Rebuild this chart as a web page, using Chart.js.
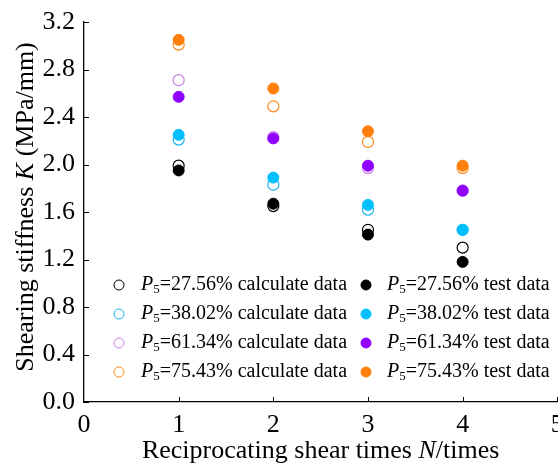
<!DOCTYPE html>
<html>
<head>
<meta charset="utf-8">
<script src="https://cdn.jsdelivr.net/npm/chart.js@4/dist/chart.umd.min.js"></script>
<style>
  html, body { margin: 0; padding: 0; background: #fff; overflow: hidden; }
  #wrap { width: 564px; height: 466px; }
</style>
</head>
<body>
<div id="wrap"><canvas id="c"></canvas></div>
<script>
// reciprocating shear times
const shearTimes = [1, 2, 3, 4];
const ratios = ['27.56', '38.02', '61.34', '75.43'];

// shearing stiffness K (MPa/mm)
const calc2756 = [1.99, 1.65, 1.45, 1.30];
const calc3802 = [2.21, 1.83, 1.62, 1.45];
const calc6134 = [2.71, 2.23, 1.97, 1.78];
const calc7543 = [3.01, 2.49, 2.19, 1.97];

const test2756 = [1.95, 1.67, 1.41, 1.18];
const test3802 = [2.25, 1.89, 1.66, 1.45];
const test6134 = [2.57, 2.22, 1.99, 1.78];
const test7543 = [3.05, 2.64, 2.28, 1.99];

const yTicks = [0, 0.4, 0.8, 1.2, 1.6, 2.0, 2.4, 2.8, 3.2];

const calcColors = ['#000000', '#1ab2f0', '#c97ee3', '#ff8a1e'];
const testColors = ['#000000', '#00bfff', '#9000ff', '#ff7f0a'];

const SERIF = '"Liberation Serif", "Times New Roman", serif';

const toPts = arr => arr.map((v, i) => ({ x: shearTimes[i], y: v }));

const calcSets = [calc2756, calc3802, calc6134, calc7543].map((d, i) => ({
    label: 'P5=' + ratios[i] + '% calculate data',
    kind: 'calc',
    data: toPts(d),
    borderColor: calcColors[i],
    backgroundColor: 'rgba(255,255,255,0)',
    pointRadius: 5.5,
    pointBorderWidth: 1.2,
    order: 2
}));
const testSets = [test2756, test3802, test6134, test7543].map((d, i) => ({
    label: 'P5=' + ratios[i] + '% test data',
    kind: 'test',
    data: toPts(d),
    borderColor: testColors[i],
    backgroundColor: testColors[i],
    pointRadius: 5.5,
    pointBorderWidth: 1,
    order: 1
}));

// text with italic / subscript parts
function runWidth(ctx, runs, size) {
    let w = 0;
    runs.forEach(r => {
        const s = r.sub ? size * 0.65 : size;
        ctx.font = (r.it ? 'italic ' : '') + s + 'px ' + SERIF;
        w += ctx.measureText(r.t).width;
    });
    return w;
}
function drawRuns(ctx, runs, x, y, size) {
    runs.forEach(r => {
        const s = r.sub ? size * 0.65 : size;
        ctx.font = (r.it ? 'italic ' : '') + s + 'px ' + SERIF;
        ctx.fillText(r.t, x, r.sub ? y + size * 0.25 : y);
        x += ctx.measureText(r.t).width;
    });
}

const extras = {
    id: 'extras',
    afterDraw(chart) {
        const ctx = chart.ctx;
        const xs = chart.scales.x, ys = chart.scales.y;
        const a = chart.chartArea;
        ctx.save();
        ctx.strokeStyle = '#000';
        ctx.lineWidth = 1;
        // inward tick marks
        ctx.beginPath();
        yTicks.forEach(v => {
            const py = Math.round(ys.getPixelForValue(v)) + 0.5;
            ctx.moveTo(a.left, py); ctx.lineTo(a.left + 5, py);
        });
        [1, 2, 3, 4, 5].forEach(v => {
            const px = Math.round(xs.getPixelForValue(v)) + 0.5;
            ctx.moveTo(px, a.bottom); ctx.lineTo(px, a.bottom - 5);
        });
        ctx.stroke();

        ctx.fillStyle = '#000';
        ctx.textBaseline = 'middle';
        ctx.textAlign = 'left';
        // x title
        const xt = [{ t: 'Reciprocating shear times ' }, { t: 'N', it: true }, { t: '/times' }];
        const xw = runWidth(ctx, xt, 26);
        drawRuns(ctx, xt, (a.left + a.right) / 2 - xw / 2, 451, 26);
        // y title
        const yt = [{ t: 'Shearing stiffness ' }, { t: 'K', it: true }, { t: ' (MPa/mm)' }];
        const yw = runWidth(ctx, yt, 26);
        ctx.save();
        ctx.translate(26, 207);
        ctx.rotate(-Math.PI / 2);
        drawRuns(ctx, yt, -yw / 2, 0, 26);
        ctx.restore();

        // legend, two columns
        const rowsY = [285, 314, 343, 372];
        const cols = [{ m: 119, t: 141, sets: calcSets }, { m: 366, t: 387, sets: testSets }];
        cols.forEach(c => {
            c.sets.forEach((ds, i) => {
                const y = rowsY[i];
                ctx.beginPath();
                ctx.arc(c.m, y, 5, 0, Math.PI * 2);
                if (ds.kind === 'test') { ctx.fillStyle = ds.backgroundColor; ctx.fill(); }
                ctx.strokeStyle = ds.borderColor;
                ctx.lineWidth = 1;
                ctx.stroke();
                ctx.fillStyle = '#000';
                const rest = ds.label.slice(2);
                drawRuns(ctx, [{ t: 'P', it: true }, { t: '5', sub: true }, { t: rest }], c.t, y, 20);
            });
        });
        ctx.restore();
    }
};

new Chart(document.getElementById('c'), {
    type: 'scatter',
    data: { datasets: [...calcSets, ...testSets] },
    options: {
        responsive: true,
        maintainAspectRatio: false,
        animation: false,
        layout: { padding: { top: 22, right: 0, left: 0, bottom: 0 } },
        plugins: { legend: { display: false }, tooltip: { enabled: false } },
        scales: {
            x: {
                type: 'linear', min: 0, max: 5,
                grid: { display: false, drawTicks: false },
                border: { display: true, color: '#000', width: 1.3 },
                ticks: { stepSize: 1, color: '#000', padding: 8, maxRotation: 0, font: { family: SERIF, size: 26 } },
                afterFit(s) { s.height = 64; s.paddingLeft = 0; s.paddingRight = 0; }
            },
            y: {
                type: 'linear', min: 0, max: 3.2,
                grid: { display: false, drawTicks: false },
                border: { display: true, color: '#000', width: 1.3 },
                ticks: { stepSize: 0.4, color: '#000', padding: 9, font: { family: SERIF, size: 26 }, callback: v => v.toFixed(1) },
                afterFit(s) { s.width = 84; s.paddingTop = 0; s.paddingBottom = 0; }
            }
        }
    },
    plugins: [extras]
});
</script>
</body>
</html>
